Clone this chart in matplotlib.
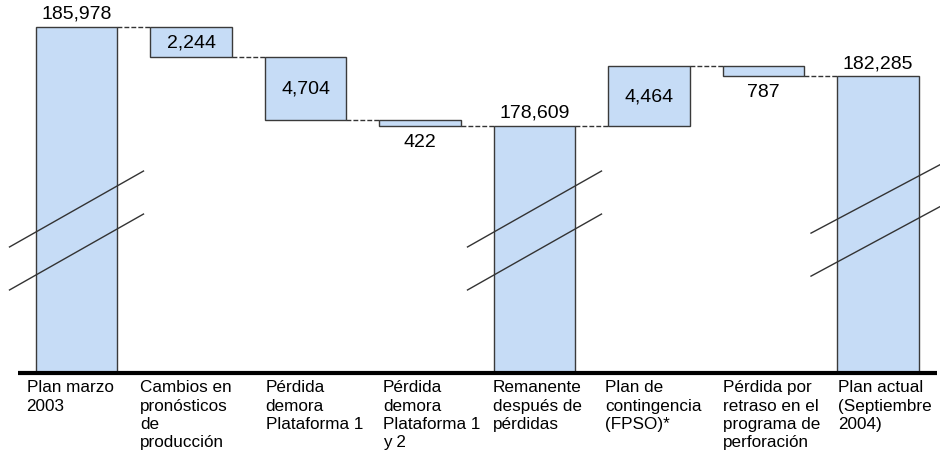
import matplotlib
matplotlib.use("Agg")
import matplotlib.pyplot as plt
import matplotlib.transforms as mtransforms

plt.rcParams['font.family'] = ['Liberation Sans', 'DejaVu Sans']

categories = [
    "Plan marzo\n2003",
    "Cambios en\npronósticos\nde\nproducción",
    "Pérdida\ndemora\nPlataforma 1",
    "Pérdida\ndemora\nPlataforma 1\ny 2",
    "Remanente\ndespués de\npérdidas",
    "Plan de\ncontingencia\n(FPSO)*",
    "Pérdida por\nretraso en el\nprograma de\nperforación",
    "Plan actual\n(Septiembre\n2004)",
]
values = [185978, -2244, -4704, -422, 178609, 4464, -787, 182285]
kinds = ["total", "delta", "delta", "delta", "total", "delta", "delta", "total"]
value_labels = ["185,978", "2,244", "4,704", "422", "178,609", "4,464", "787", "182,285"]
break_bars = [0, 4, 7]

W, H = 940, 460
fig = plt.figure(figsize=(W / 100, H / 100), dpi=100)
axis_px = 374
ax = fig.add_axes([0, (H - axis_px) / H, 1, axis_px / H])

step = 114.5
x0 = 76.5
ax.set_xlim(-x0 / step, (W - x0) / step)
ax.set_ylim(160118, 188070)
ax.axis("off")

bar_w = 0.715
face = "#C6DCF6"
edge = "#3a3a3a"

bottoms, heights, levels = [], [], []
running = 0
for v, k in zip(values, kinds):
    if k == "total":
        bottoms.append(0)
        heights.append(v)
        running = v
    else:
        new = running + v
        bottoms.append(min(running, new))
        heights.append(abs(v))
        running = new
    levels.append(running)

xs = list(range(len(values)))
ax.bar(xs, heights, bottom=bottoms, width=bar_w, color=face,
       edgecolor=edge, linewidth=1.0, zorder=2)

for i in range(len(values) - 1):
    ax.plot([i + bar_w / 2, i + 1 - bar_w / 2], [levels[i], levels[i]],
            color="#333333", linestyle=(0, (3.5, 1.5)), linewidth=1.0, zorder=1)

px = (188070 - 160118) / axis_px
for i, (v, k, lab) in enumerate(zip(values, kinds, value_labels)):
    if k == "total":
        ax.text(i, bottoms[i] + heights[i] + 5 * px, lab, ha="center", va="bottom",
                fontsize=14, color="black")
    elif abs(v) > 1500:
        ax.text(i, bottoms[i] + heights[i] / 2, lab, ha="center", va="center",
                fontsize=14, color="black")
    else:
        ax.text(i, bottoms[i] - 7 * px, lab, ha="center", va="top",
                fontsize=14, color="black")

trans = mtransforms.blended_transform_factory(ax.transData, ax.transAxes)
break_y = {0: [(0.337, 0.540), (0.222, 0.425)],
           4: [(0.337, 0.540), (0.222, 0.425)],
           7: [(0.374, 0.564), (0.259, 0.452)]}
for b in break_bars:
    for (ya, yb) in break_y[b]:
        ax.plot([b - 0.585, b + 0.585], [ya, yb], transform=trans,
                color="#333333", linewidth=1.0, zorder=3, clip_on=False)

ax.plot([18 / W, 937 / W], [0, 0], transform=ax.transAxes, color="black",
        linewidth=3, clip_on=False, solid_capstyle="butt", zorder=4)

offsets_px = [-9, -10, 1, 4, -1, -3, 0, 1]
for i, (c, off) in enumerate(zip(categories, offsets_px)):
    xl = i - bar_w / 2 + off / step
    ax.text(xl, -6.5 / axis_px, c, transform=trans, ha="left", va="top",
            fontsize=12.3, linespacing=1.27, color="black")

fig.savefig("out.png", dpi=100)
